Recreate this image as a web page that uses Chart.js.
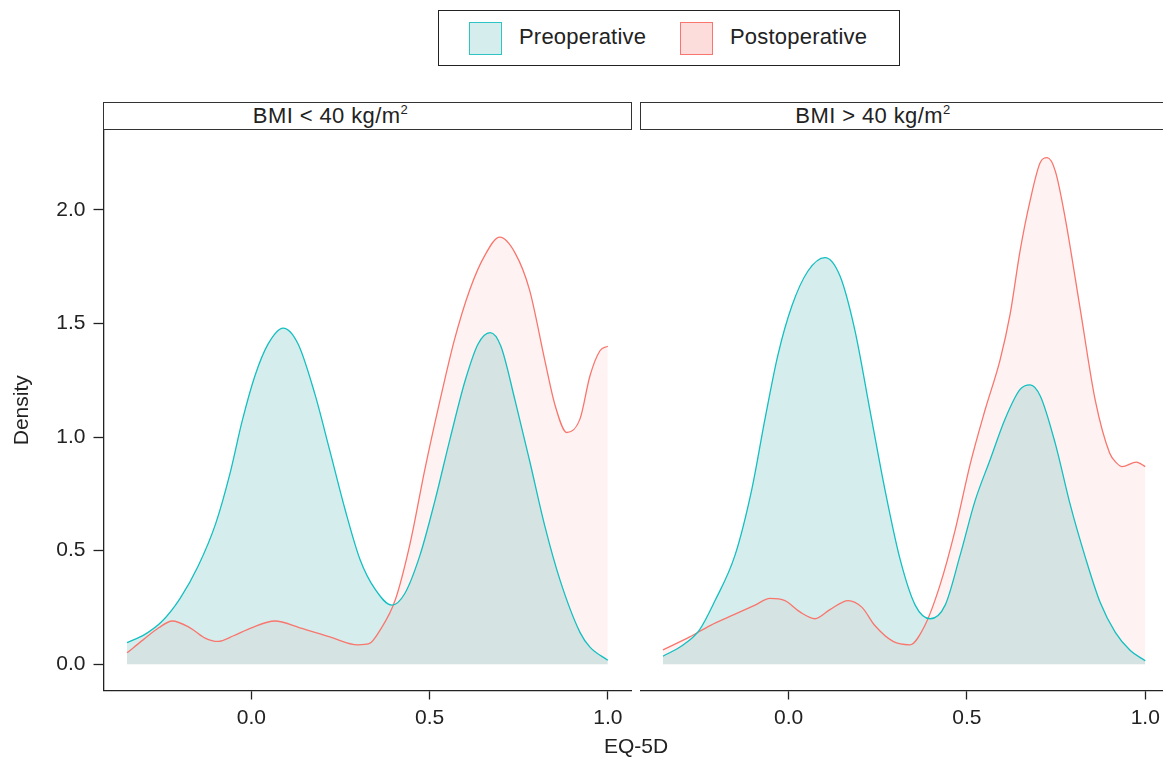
<!DOCTYPE html>
<html><head><meta charset="utf-8">
<script src="https://cdn.jsdelivr.net/npm/chart.js@4/dist/chart.umd.min.js"></script>
<style>
html,body{margin:0;padding:0;background:#fff;overflow:hidden;width:1163px;height:758px;}
body{position:relative;font-family:"Liberation Sans",Arial,sans-serif;color:#222;}
.abs{position:absolute;}
#legend{left:438px;top:10px;width:462px;height:56px;border:1px solid #222;box-sizing:border-box;}
.key{position:absolute;top:22px;width:33px;height:33px;box-sizing:border-box;}
.ltxt{position:absolute;top:23px;font-size:22px;line-height:28px;color:#222;letter-spacing:0.2px;}
.strip{top:102px;height:28px;border:1px solid #333;box-sizing:border-box;font-size:22px;line-height:26px;text-align:center;color:#222;background:#fff;letter-spacing:0.4px;padding-right:74px;}
.strip sup{font-size:13px;vertical-align:top;line-height:14px;}
#xtitle{left:536px;width:200px;top:733px;text-align:center;font-size:21px;line-height:26px;color:#222;}
</style>
</head>
<body>
<div id="legend" class="abs"></div>
<div class="key" style="left:469px;background:#d6eded;border:1.5px solid #2ec4c4;"></div>
<div class="ltxt" style="left:519px;">Preoperative</div>
<div class="key" style="left:680px;background:#fddcdc;border:1.5px solid #f8766d;"></div>
<div class="ltxt" style="left:730px;">Postoperative</div>

<div class="abs strip" style="left:103px;width:529px;">BMI &lt; 40 kg/m<sup>2</sup></div>
<div class="abs strip" style="left:640px;width:540px;">BMI &gt; 40 kg/m<sup>2</sup></div>

<div class="abs" style="left:0;top:130px;width:632px;height:628px;"><canvas id="c1" width="632" height="628"></canvas></div>
<div class="abs" style="left:640px;top:130px;width:529px;height:628px;"><canvas id="c2" width="529" height="628"></canvas></div>
<div id="xtitle" class="abs">EQ-5D</div>

<script>
// ---- data ----
const panelTitles = ["BMI < 40 kg/m²", "BMI > 40 kg/m²"];
const seriesNames = ["Preoperative", "Postoperative"];
const xTicks = [0.0, 0.5, 1.0];
const yTicks = [0.0, 0.5, 1.0, 1.5, 2.0];

const leftPreX  = [-0.349,-0.30,-0.25,-0.20,-0.15,-0.10,-0.06,-0.026,0.01,0.047,0.089,0.131,0.178,0.22,0.263,0.305,0.347,0.394,0.43,0.473,0.515,0.557,0.60,0.636,0.67,0.70,0.74,0.78,0.823,0.866,0.922,0.95,1.0];
const leftPreY  = [0.095,0.13,0.19,0.29,0.43,0.62,0.84,1.07,1.27,1.41,1.48,1.41,1.19,0.94,0.68,0.46,0.33,0.26,0.31,0.48,0.72,0.99,1.25,1.41,1.46,1.40,1.16,0.90,0.61,0.37,0.14,0.075,0.017];

const leftPostX = [-0.349,-0.303,-0.26,-0.222,-0.172,-0.13,-0.094,-0.05,0.0,0.066,0.136,0.22,0.299,0.33,0.361,0.403,0.445,0.487,0.529,0.57,0.613,0.655,0.697,0.74,0.78,0.823,0.852,0.885,0.922,0.95,0.978,1.0];
const leftPostY = [0.05,0.108,0.16,0.19,0.16,0.115,0.10,0.125,0.16,0.19,0.16,0.12,0.085,0.09,0.15,0.28,0.53,0.86,1.16,1.43,1.65,1.80,1.88,1.81,1.65,1.34,1.14,1.02,1.08,1.27,1.38,1.40];

const rightPreX = [-0.352,-0.30,-0.25,-0.206,-0.15,-0.103,-0.066,-0.03,0.01,0.054,0.102,0.144,0.186,0.228,0.27,0.313,0.355,0.397,0.439,0.481,0.523,0.565,0.607,0.649,0.677,0.706,0.748,0.79,0.832,0.874,0.916,0.958,1.0];
const rightPreY = [0.035,0.08,0.15,0.28,0.48,0.77,1.08,1.36,1.58,1.73,1.79,1.71,1.47,1.12,0.77,0.46,0.26,0.20,0.26,0.48,0.72,0.90,1.08,1.21,1.23,1.18,0.97,0.70,0.47,0.27,0.14,0.06,0.015];

const rightPostX = [-0.352,-0.277,-0.22,-0.15,-0.094,-0.052,-0.01,0.032,0.074,0.116,0.167,0.206,0.242,0.293,0.34,0.382,0.425,0.467,0.509,0.551,0.593,0.621,0.649,0.677,0.706,0.725,0.748,0.776,0.818,0.86,0.90,0.92,0.935,0.975,1.0];
const rightPostY = [0.063,0.12,0.17,0.22,0.26,0.29,0.28,0.23,0.20,0.24,0.28,0.25,0.17,0.10,0.085,0.17,0.35,0.59,0.88,1.12,1.34,1.54,1.82,2.04,2.21,2.23,2.17,1.96,1.56,1.16,0.93,0.885,0.87,0.89,0.87];

// ---- drawing ----
const FONT = '"Liberation Sans", Arial, sans-serif';
const INK = '#222';
const xMin = -0.415, xMax = 1.0665, yMin = -0.116, yMax = 2.352;
const zip = (xs, ys) => xs.map((x, i) => ({x: x, y: ys[i]}));

function makePanel(id, preX, preY, postX, postY, showY) {
  const ds = (name, xs, ys, line, fill) => ({
    label: name, data: zip(xs, ys), borderColor: line, backgroundColor: fill,
    borderWidth: 1.3, pointRadius: 0, fill: 'origin', cubicInterpolationMode: 'monotone'
  });
  return new Chart(document.getElementById(id), {
    type: 'line',
    data: { datasets: [
      ds(seriesNames[0], preX, preY, '#13bfc1', 'rgba(0,140,140,0.16)'),
      ds(seriesNames[1], postX, postY, '#f8766d', 'rgba(248,118,109,0.09)')
    ]},
    options: {
      responsive: false, animation: false, devicePixelRatio: 1,
      layout: { padding: { left: showY ? 0 : 0.5, right: showY ? 0.5 : 0, top: 0, bottom: 0 } },
      plugins: { legend: {display: false}, tooltip: {enabled: false}, filler: {drawTime: 'beforeDatasetsDraw'} },
      scales: {
        x: {
          type: 'linear', min: xMin, max: xMax,
          afterBuildTicks: s => { s.ticks = xTicks.map(v => ({value: v})); },
          afterFit: s => { s.height = 67.5; s.paddingLeft = 0; s.paddingRight = 0; },
          grid: {drawOnChartArea: false, drawTicks: true, tickLength: 9, tickColor: INK, tickWidth: 1.3},
          border: {display: true, color: INK, width: 1.3},
          ticks: {font: {size: 21, family: FONT}, color: INK, padding: 6, maxRotation: 0, autoSkip: false,
                  callback: v => Number(v).toFixed(1)}
        },
        y: {
          type: 'linear', min: yMin, max: yMax, display: showY,
          afterBuildTicks: s => { s.ticks = yTicks.map(v => ({value: v})); },
          afterFit: s => { if (showY) s.width = 103.5; s.paddingTop = 0; s.paddingBottom = 0; },
          grid: {drawOnChartArea: false, drawTicks: true, tickLength: 10, tickColor: INK, tickWidth: 1.3},
          border: {display: true, color: INK, width: 1.3},
          ticks: {font: {size: 21, family: FONT}, color: INK, padding: 8, autoSkip: false,
                  callback: v => Number(v).toFixed(1)},
          title: {display: true, text: 'Density', font: {size: 21, family: FONT}, color: INK, padding: {top: 10, bottom: 0}}
        }
      }
    }
  });
}
makePanel('c1', leftPreX, leftPreY, leftPostX, leftPostY, true);
makePanel('c2', rightPreX, rightPreY, rightPostX, rightPostY, false);
</script>
</body></html>
